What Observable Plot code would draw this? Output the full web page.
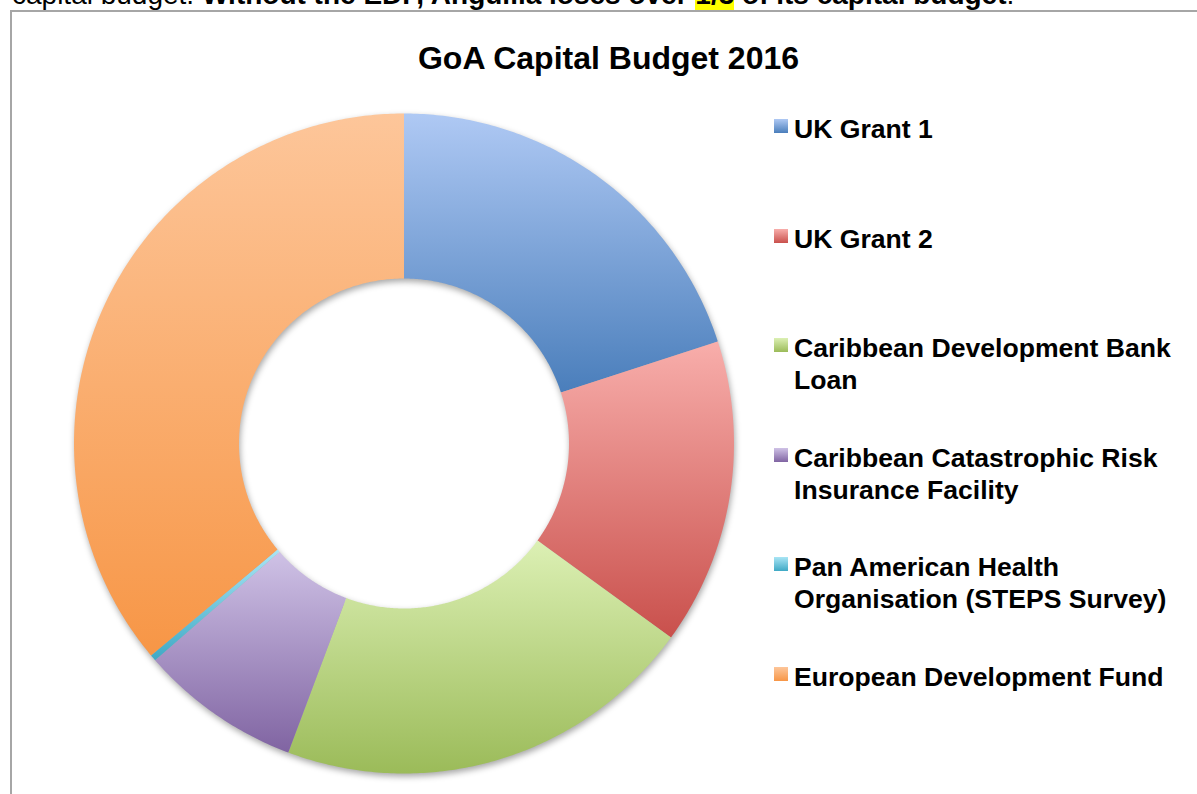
<!DOCTYPE html>
<html>
<head>
<meta charset="utf-8">
<script src="https://cdn.jsdelivr.net/npm/d3@7"></script>
<script src="https://cdn.jsdelivr.net/npm/@observablehq/plot@0.6"></script>
<style>
  html, body { margin: 0; padding: 0; background: #fff; overflow: hidden; }
  body { width: 1197px; height: 794px; position: relative; font-family: "Liberation Sans", Arial, sans-serif; }
  .abs { position: absolute; white-space: nowrap; }
  #frame { position: absolute; left: 10px; top: 10px; width: 1400px; height: 1000px; border-left: 2px solid #a6a6a6; border-top: 2px solid #a6a6a6; }
  #toptext { left: 12px; top: -21.5px; font-size: 28px; line-height: 32px; color: #000; }
  #toptext b { font-weight: bold; }
  #toptext .hl { background: #ffff00; }
  #title { left: 0; width: 1217px; text-align: center; top: 40.5px; font-size: 32px; line-height: 34px; font-weight: bold; color: #000; }
  .leg-text { font-size: 26.6px; line-height: 32px; font-weight: bold; color: #000; white-space: pre; }
  .leg-sw { width: 14px; height: 14px; }
  #chart { position: absolute; left: 0; top: 0; }
</style>
</head>
<body>
<div id="frame"></div>
<div id="toptext" class="abs">capital budget.  <b>Without the EDF, Anguilla loses over <span class="hl">1/3</span> of its capital budget</b>.</div>
<div id="title" class="abs">GoA Capital Budget 2016</div>
<svg width="0" height="0" style="position:absolute">
  <defs id="gradDefs"></defs>
</svg>
<div id="chart"></div>
<div id="legend"></div>
<script>
// ---- data (share of capital budget, %) ----
const categories = [
  "UK Grant 1",
  "UK Grant 2",
  "Caribbean Development Bank Loan",
  "Caribbean Catastrophic Risk Insurance Facility",
  "Pan American Health Organisation (STEPS Survey)",
  "European Development Fund"
];
const shares = [20.0, 15.0, 20.7, 7.9, 0.3, 36.1];
const legendLines = [
  ["UK Grant 1"],
  ["UK Grant 2"],
  ["Caribbean Development Bank", "Loan"],
  ["Caribbean Catastrophic Risk", "Insurance Facility"],
  ["Pan American Health", "Organisation (STEPS Survey)"],
  ["European Development Fund"]
];
const colorsTop = ["#afc9f4", "#f8aeab", "#dcf0b4", "#cfc2e6", "#a9e5f5", "#fdc69a"];
const colorsBottom = ["#4a7ebb", "#c9504c", "#9bbb59", "#8064a2", "#3fa9c5", "#f79646"];

// ---- gradients ----
const defs = document.getElementById("gradDefs");
categories.forEach((c, i) => {
  const ns = "http://www.w3.org/2000/svg";
  const g = document.createElementNS(ns, "linearGradient");
  g.setAttribute("id", "grad" + i);
  g.setAttribute("x1", "0"); g.setAttribute("y1", "0");
  g.setAttribute("x2", "0"); g.setAttribute("y2", "1");
  const s1 = document.createElementNS(ns, "stop");
  s1.setAttribute("offset", "0"); s1.setAttribute("stop-color", colorsTop[i]);
  const s2 = document.createElementNS(ns, "stop");
  s2.setAttribute("offset", "1"); s2.setAttribute("stop-color", colorsBottom[i]);
  g.appendChild(s1); g.appendChild(s2);
  defs.appendChild(g);
});

// ---- donut geometry from data ----
const data = categories.map((name, i) => ({name, value: shares[i], fill: `url(#grad${i})`}));
const pie = d3.pie().sort(null).value(d => d.value).startAngle(0).endAngle(2 * Math.PI);
const arcs = pie(data);
const innerRatio = 0.5;
const pts = [];
arcs.forEach(a => {
  const n = Math.max(4, Math.ceil((a.endAngle - a.startAngle) / 0.01));
  const ring = [];
  for (let k = 0; k <= n; k++) {
    const t = a.startAngle + (a.endAngle - a.startAngle) * k / n;
    ring.push({name: a.data.name, fill: a.data.fill, x: Math.sin(t), y: Math.cos(t)});
  }
  for (let k = n; k >= 0; k--) {
    const t = a.startAngle + (a.endAngle - a.startAngle) * k / n;
    ring.push({name: a.data.name, fill: a.data.fill, x: innerRatio * Math.sin(t), y: innerRatio * Math.cos(t)});
  }
  ring.push(ring[0]);
  pts.push(...ring);
});

const cx = 403.5, cy = 443, R = 330;
const plot = Plot.plot({
  width: 1197,
  height: 794,
  margin: 0,
  x: {domain: [-1, 1], range: [cx - R, cx + R], axis: null},
  y: {domain: [-1, 1], range: [cy + R, cy - R], axis: null},
  color: {type: "identity"},
  marks: [
    Plot.line(pts, {x: "x", y: "y", z: "name", fill: "fill", stroke: "none", curve: "linear"})
  ]
});
plot.style.background = "transparent";
plot.querySelectorAll('g[aria-label="line"]').forEach(g => {
  g.style.filter = "drop-shadow(1px 3px 3px rgba(0,0,0,0.35))";
});
document.getElementById("chart").appendChild(plot);

// ---- legend ----
const legend = document.getElementById("legend");
legendLines.forEach((lines, i) => {
  const top = 113 + i * 109.5;
  const sw = document.createElement("div");
  sw.className = "abs leg-sw";
  sw.style.left = "774px";
  sw.style.top = (top + 6.2) + "px";
  sw.style.background = `linear-gradient(${colorsTop[i]}, ${colorsBottom[i]})`;
  legend.appendChild(sw);
  const tx = document.createElement("div");
  tx.className = "abs leg-text";
  tx.style.left = "794px";
  tx.style.top = top + "px";
  tx.textContent = lines.join("\n");
  legend.appendChild(tx);
});
</script>
</body>
</html>
